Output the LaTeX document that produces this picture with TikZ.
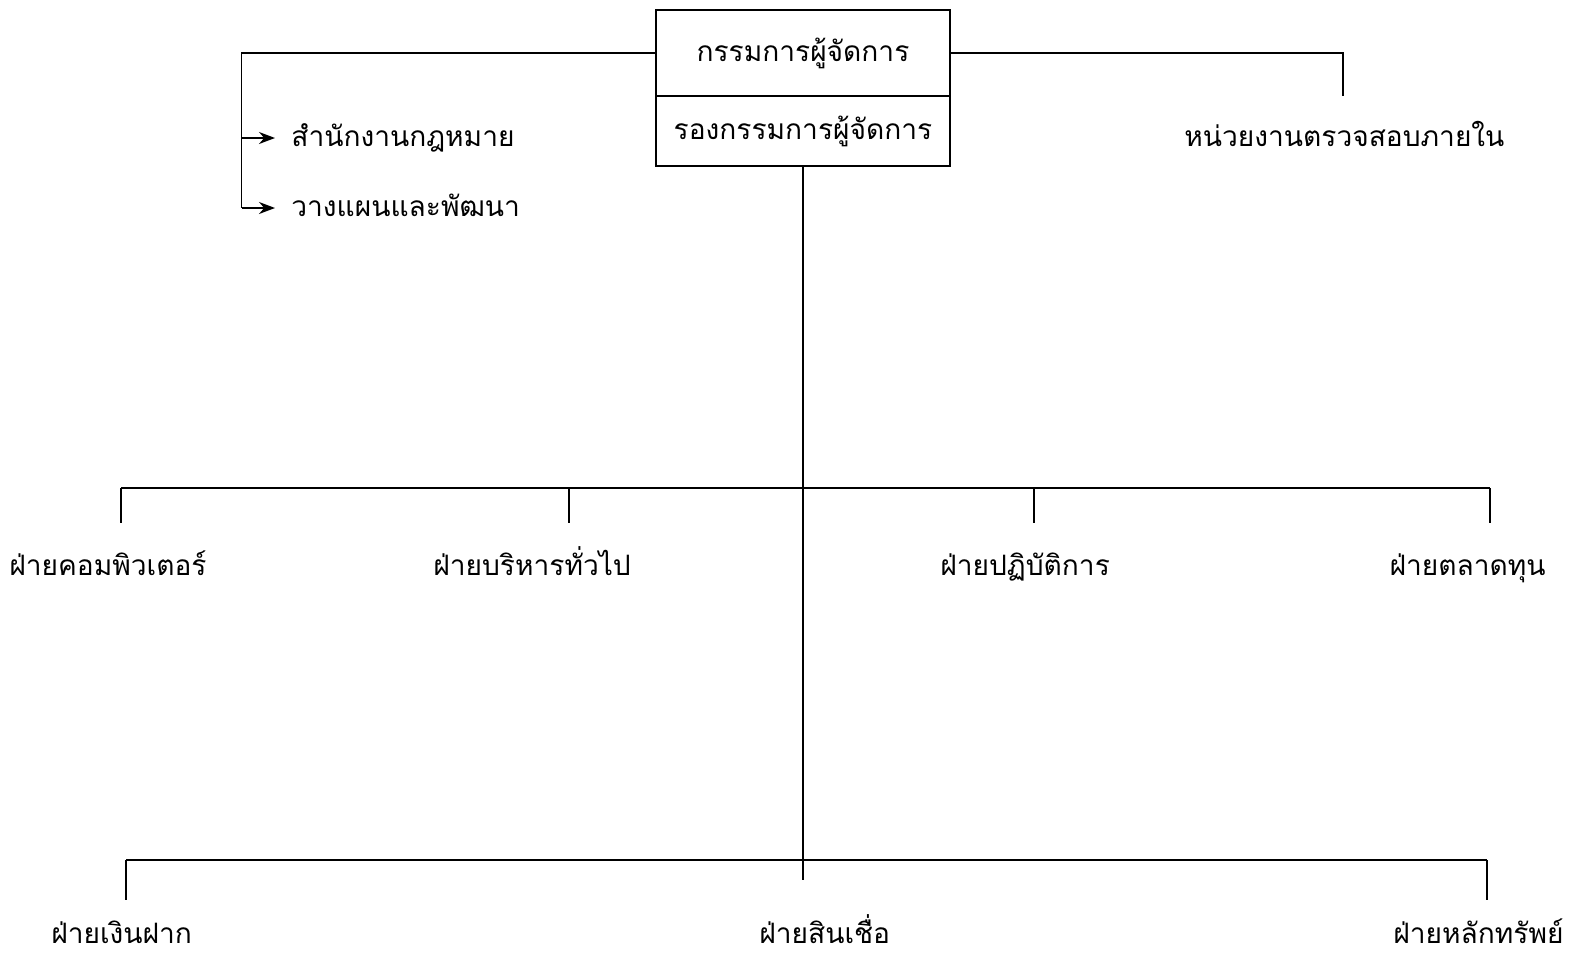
\documentclass[tikz,border=0pt]{standalone}
\usepackage{fontspec}
\newfontfamily\thaifont[Script=Thai]{Loma}
\usetikzlibrary{arrows.meta}
\begin{document}
\begin{tikzpicture}[x=1cm,y=-1cm,line width=0.5pt,
    thai/.style={font=\thaifont\fontsize{8}{10}\selectfont,inner sep=1pt,
        text height=2.4mm,text depth=0.7mm},
    unit/.style={thai,anchor=west},
    cell/.style={thai,draw,minimum width=2.94cm,inner sep=0pt,outer sep=0pt},
    tip/.style={-{Stealth[length=1.6mm,width=1.2mm]},shorten >=1.2mm}]
    \useasboundingbox (0,0) rectangle (15.78,9.58);
    % top box
    \node[cell,minimum height=0.86cm] (md) at (8.03,0.53) {กรรมการผู้จัดการ};
    \node[cell,minimum height=0.70cm,anchor=north] (dmd) at (md.south) {รองกรรมการผู้จัดการ};
    % staff units
    \node[unit] (law) at (2.87,1.38) {สำนักงานกฎหมาย};
    \node[unit] (plan) at (2.87,2.08) {วางแผนและพัฒนา};
    \node[unit] (audit) at (11.80,1.38) {หน่วยงานตรวจสอบภายใน};
    \coordinate (lt) at (2.415,0.53);
    \coordinate (lb) at (2.415,2.08);
    \coordinate (rt) at (13.43,0.53);
    \draw (md.west) -- (lt) -- (lb);
    \draw[tip] (lt |- law.west) -- (law.west);
    \draw[tip] (lb) -- (plan.west);
    \draw (md.east) -- (rt) -- ++(0,0.43);
    % divisions
    \node[unit] (comp) at (0.05,5.67) {ฝ่ายคอมพิวเตอร์};
    \node[unit] (admin) at (4.29,5.67) {ฝ่ายบริหารทั่วไป};
    \node[unit] (ops) at (9.36,5.67) {ฝ่ายปฏิบัติการ};
    \node[unit,anchor=east] (cap) at (15.50,5.67) {ฝ่ายตลาดทุน};
    \node[unit] (dep) at (0.47,9.35) {ฝ่ายเงินฝาก};
    \node[unit] (cred) at (7.55,9.35) {ฝ่ายสินเชื่อ};
    \node[unit] (sec) at (13.89,9.35) {ฝ่ายหลักทรัพย์};
    % buses
    \coordinate (b1) at (8.03,4.88);
    \coordinate (b2) at (8.03,8.60);
    \draw (dmd.south) -- (b1) -- (b2) -- ++(0,0.20);
    \draw (1.21,4.88) -- (14.90,4.88);
    \foreach \x in {1.21,5.69,10.34,14.90}
        \draw (\x,4.88) -- ++(0,0.35);
    \draw (1.26,8.60) -- (14.87,8.60);
    \foreach \x in {1.26,14.87}
        \draw (\x,8.60) -- ++(0,0.40);
\end{tikzpicture}
\end{document}
